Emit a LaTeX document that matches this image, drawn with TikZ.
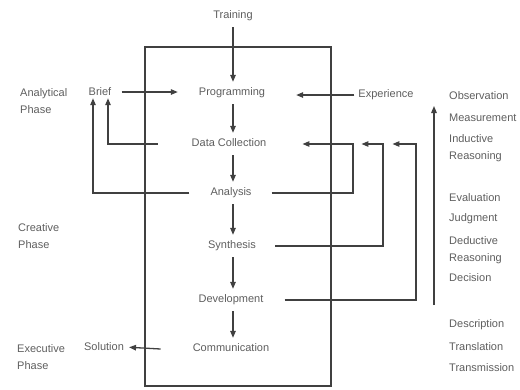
\documentclass[tikz,border=0pt]{standalone}
\usepackage{fontspec}
\setmainfont{Liberation Sans}
\usetikzlibrary{arrows.meta}
\definecolor{txtgray}{HTML}{5E5E5E}
\definecolor{linegray}{HTML}{404040}
\begin{document}
\begin{tikzpicture}[x=1pt,y=-1pt,
  lbl/.style={font=\fontsize{11}{17.5}\selectfont, text=txtgray, inner sep=0pt},
  stage/.style={lbl, anchor=center, text height=8pt, text depth=2.5pt, minimum height=22pt},
  side/.style={lbl, anchor=west, align=left},
  ln/.style={draw=linegray, line width=1.3pt},
  arr/.style={ln, -{Triangle[length=7pt,width=5.5pt]}},
  frame/.style={draw=linegray, line width=1.1pt}]
\useasboundingbox (0,0) rectangle (520,389);

% process boundary
\draw[frame] (145,47) rectangle (331,386);

% central sequence of stages
\coordinate (spine) at (233,0);
\node[stage] (train) at (233,16)  {Training};
\node[stage] (prog)  at (232,93)  {Programming};
\node[stage] (data)  at (229,144) {Data Collection};
\node[stage] (anal)  at (231,193) {Analysis};
\node[stage] (synth) at (232,246) {Synthesis};
\node[stage] (dev)   at (231,300) {Development};
\node[stage] (comm)  at (231,349) {Communication};

\draw[arr] (train.south -| spine) -- (prog.north -| spine);
\draw[arr] (prog.south -| spine)  -- (data.north -| spine);
\draw[arr] (data.south -| spine)  -- (anal.north -| spine);
\draw[arr] (anal.south -| spine)  -- (synth.north -| spine);
\draw[arr] (synth.south -| spine) -- (dev.north -| spine);
\draw[arr] (dev.south -| spine)   -- (comm.north -| spine);

% inputs and outputs
\node[lbl] (brief) at (100,92)  {Brief};
\node[lbl] (sol)   at (104,347) {Solution};
\node[lbl] (exp)   at (386,95)  {Experience};

\draw[arr, shorten <=10pt, shorten >=21pt] (brief.east) -- (brief.east -| prog.west);
\draw[arr, shorten <=4pt, shorten >=31pt] (exp.west) -- (exp.west -| prog.east);
\draw[arr, shorten >=5pt] ([xshift=-32pt]comm.west) -- (sol.east);

% feedback to the brief
\draw[arr, shorten >=2pt] ([xshift=-34pt]data.west) -| ([xshift=8pt]brief.south);
\draw[arr, shorten >=2pt] ([xshift=-21pt]anal.west) -| ([xshift=-7pt]brief.south);

% feedback to data collection
\coordinate (fa) at (353,0);
\coordinate (fb) at (383,0);
\coordinate (fc) at (416,0);
\draw[arr] ([xshift=20pt]anal.east)  -| (fa |- data) -- ([xshift=36pt]data.east);
\draw[arr] ([xshift=19pt]synth.east) -| (fb |- data) -- ([xshift=95pt]data.east);
\draw[arr] ([xshift=21pt]dev.east)   -| (fc |- data) -- ([xshift=126pt]data.east);

% ascending reasoning arrow
\coordinate (up0) at (434,305);
\coordinate (up1) at (434,106);
\draw[arr] (up0) -- (up1);

% phase labels
\node[side] (ph1) at (20,101) {Analytical\\Phase};
\node[side] (ph2) at (18,236) {Creative\\Phase};
\node[side] (ph3) at (17,357) {Executive\\Phase};

% activities of each phase
\node[side] (r1)  at (449,96)    {Observation};
\node[side] (r2)  at (449,118)   {Measurement};
\node[side] (r3)  at (449,148)   {Inductive\\Reasoning};
\node[side] (r4)  at (449,198)   {Evaluation};
\node[side] (r5)  at (449,219)   {Judgment};
\node[side] (r6)  at (449,250)   {Deductive\\Reasoning};
\node[side] (r7)  at (449,278)   {Decision};
\node[side] (r8)  at (449,325)   {Description};
\node[side] (r9)  at (449,347)   {Translation};
\node[side] (r10) at (449,368)   {Transmission};
\end{tikzpicture}
\end{document}
